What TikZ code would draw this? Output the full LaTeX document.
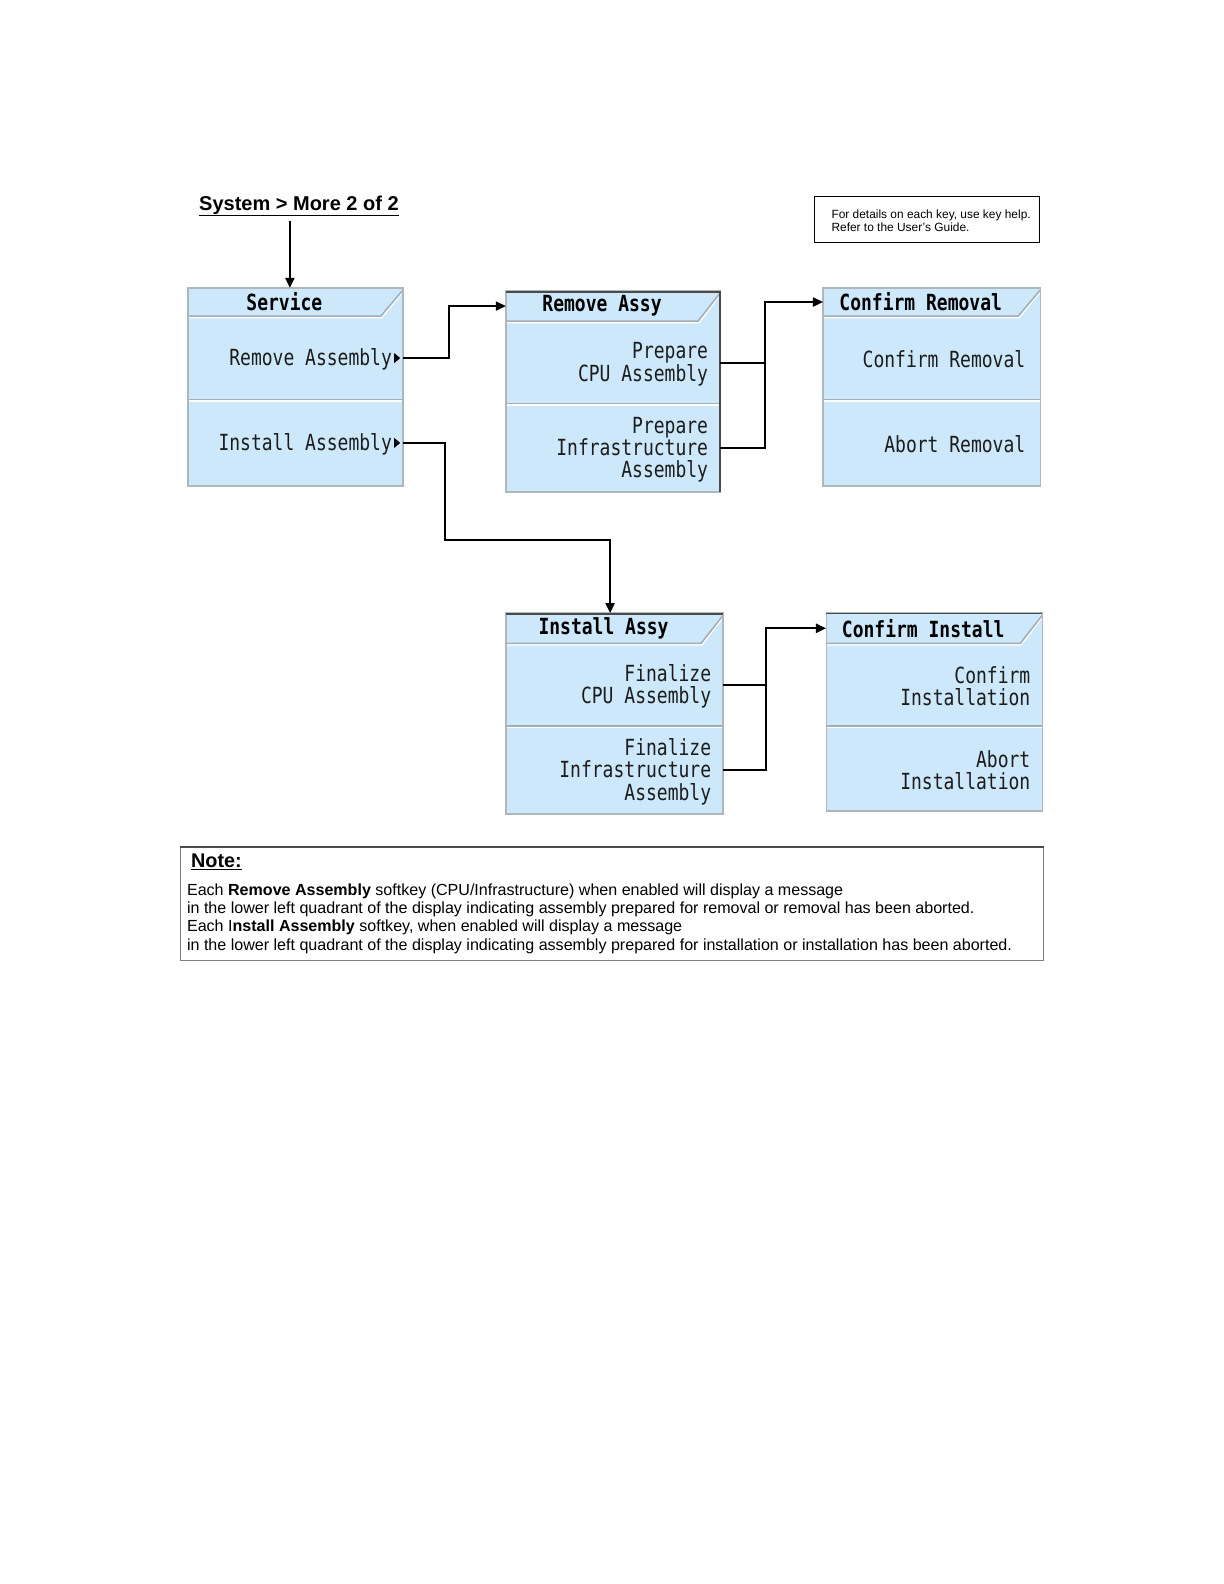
\documentclass[tikz,border=0pt]{standalone}
\usepackage{fontspec}
\setmainfont{Liberation Sans}
\newfontfamily\menufont[FakeStretch=0.81]{DejaVu Sans Mono}
\usetikzlibrary{arrows.meta,fit,calc,positioning}
\definecolor{menublue}{HTML}{CCE8FA}
\definecolor{menuedge}{HTML}{AEB6BE}
\definecolor{menusep}{HTML}{A4ACB4}
\definecolor{darkedge}{HTML}{4A4A4A}
\definecolor{menutext}{HTML}{1C1C1C}
\tikzset{
  menuarea/.style={fill=menublue},
  zone/.style={inner sep=0pt, draw=none},
  sepline/.style={draw=menusep, line width=1.5pt},
  hiline/.style={draw=white, line width=1.5pt},
  frameline/.style={draw=menuedge, line width=1.5pt},
  darkline/.style={draw=darkedge, line width=2pt},
  keytext/.style={font=\menufont\fontsize{22}{22}\selectfont, text=menutext, align=right, inner sep=0pt, yshift=-1.5pt},
  menutitle/.style={font=\menufont\bfseries\fontsize{22}{22}\selectfont, text=black, inner sep=0pt},
  conn/.style={draw=black, line width=2pt},
  arr/.style={conn, -{Triangle[length=10pt,width=9pt]}},
  notetext/.style={font=\fontsize{15.9}{18}\selectfont, anchor=base west, inner sep=0pt},
  helptext/.style={font=\fontsize{11.8}{13}\selectfont, anchor=base west, inner sep=0pt},
}
% #1 name, #2 left, #3 top, #4 right, #5 header bottom, #6 separator, #7 bottom, #8 title
\newcommand\menuframe[8]{%
  \path[menuarea] (#2,#3) rectangle (#4,#7);
  \node[zone, fit={(#2,#3) (#4,#5)}] (#1h) {};
  \node[zone, fit={(#2,#5) (#4,#6)}] (#1a) {};
  \node[zone, fit={(#2,#6) (#4,#7)}] (#1b) {};
  \draw[hiline] (#2,#5+1.5) -- (#4-21,#5+1.5) -- (#4,#3+3.5);
  \draw[sepline] (#2,#5) -- (#4-22,#5) -- (#4,#3+2);
  \draw[hiline] (#2,#6+1) -- (#4,#6+1);
  \draw[sepline] (#2,#6-0.5) -- (#4,#6-0.5);
  \draw[frameline] (#2,#3) rectangle (#4,#7);
  \node[menutitle] (#1t) at ($(#1h.center)+(-11,0)$) {#8};
}
\begin{document}
\begin{tikzpicture}[x=1pt,y=-1pt]
\useasboundingbox[fill=white] (0,0) rectangle (1211.76,1568.16);

% title
\node[font=\bfseries\fontsize{19.8}{24}\selectfont, anchor=base west, inner sep=0pt] (sysmenu) at (197,208) {\underline{System > More 2 of 2}};

% help box
\node[draw=black, line width=1pt, zone, draw, fit={(806,195) (1029,240)}] (helpbox) {};
\node[helptext] (help1) at (823,216) {For details on each key, use key help.};
\node[helptext] (help2) at (823,229) {Refer to the User's Guide.};

% menus
\menuframe{svc}{186}{285}{399}{313}{396}{481}{Service}
\menuframe{rem}{501}{288}{713}{318}{400}{487}{Remove Assy}
\menuframe{cr}{815}{285}{1030}{313}{396}{481}{Confirm Removal}
\menuframe{inst}{501}{607}{716}{637}{719}{806}{Install Assy}
\menuframe{ci}{818}{607}{1032}{637}{719}{803}{Confirm Install}

\draw[darkline] (501,289) -- (713,289) -- (713,487);
\draw[darkline] (501,608) -- (716,608);
\draw[draw=darkedge, line width=1pt] (818,607.5) -- (1032,607.5);

% key labels
\node[keytext, left=11pt of svca.east] (svcal) {Remove Assembly};
\node[keytext, left=11pt of svcb.east] (svcbl) {Install Assembly};
\fill ($(svca.east)+(-9,-5)$) -- ($(svca.east)+(-3,0)$) -- ($(svca.east)+(-9,5)$) -- cycle;
\fill ($(svcb.east)+(-9,-5)$) -- ($(svcb.east)+(-3,0)$) -- ($(svcb.east)+(-9,5)$) -- cycle;
\node[keytext, left=12pt of rema.east] (remal) {Prepare\\CPU Assembly};
\node[keytext, left=12pt of remb.east] (rembl) {Prepare\\Infrastructure\\Assembly};
\node[keytext, left=15pt of cra.east] (cral) {Confirm Removal};
\node[keytext, left=15pt of crb.east] (crbl) {Abort Removal};
\node[keytext, left=12pt of insta.east] (instal) {Finalize\\CPU Assembly};
\node[keytext, left=12pt of instb.east] (instbl) {Finalize\\Infrastructure\\Assembly};
\node[keytext, left=12pt of cia.east] (cial) {Confirm\\Installation};
\node[keytext, left=12pt of cib.east] (cibl) {Abort\\Installation};

% connectors
\coordinate (svctop) at (287,285);
\draw[arr] (sysmenu.south -| svctop) ++(0,4) -- (svctop);
\draw[arr] (svca.east) -- ++(45,0) |- (remh.west);
\coordinate (instbend) at (441,535);
\coordinate (insttop) at (604,607);
\draw[arr] (svcb.east) -| (instbend) -| (insttop);
\draw[conn] (rema.east) -- ++(44,0) coordinate (remjoin);
\draw[arr] (remb.east) -| (remjoin) |- (crh.west);
\draw[conn] (insta.east) -- ++(42,0) coordinate (instjoin);
\draw[arr] (instb.east) -| (instjoin) |- (cih.west);

% note box
\node[zone, draw=gray, line width=1pt, fit={(179,839) (1033,951)}] (note) {};
\draw[draw=darkedge, line width=1.5pt] (note.north west) -- (note.north east);
\node[font=\bfseries\fontsize{19.6}{22}\selectfont, anchor=base west, inner sep=0pt] (notehd) at (189,859) {\underline{Note:}};
\node[notetext] (n1) at (185,886.5) {Each \textbf{Remove Assembly} softkey (CPU/Infrastructure) when enabled will display a message};
\node[notetext] (n2) at (185,904.5) {in the lower left quadrant of the display indicating assembly prepared for removal or removal has been aborted.};
\node[notetext] (n3) at (185,922.5) {Each I\textbf{nstall Assembly} softkey, when enabled will display a message};
\node[notetext] (n4) at (185,940.5) {in the lower left quadrant of the display indicating assembly prepared for installation or installation has been aborted.};
\end{tikzpicture}
\end{document}
